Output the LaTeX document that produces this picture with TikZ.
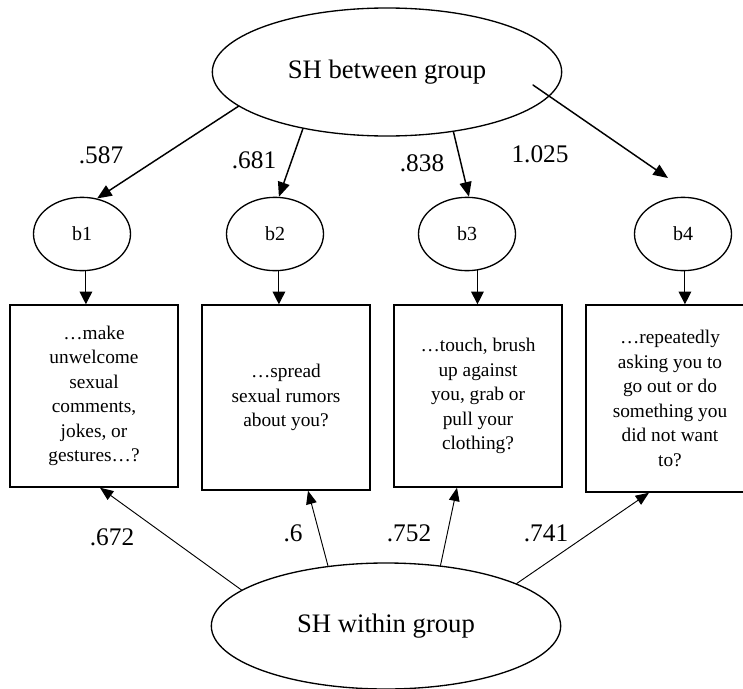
\documentclass[tikz,border=0pt]{standalone}
\usepackage{fontspec}
\setmainfont{Liberation Serif}
\usetikzlibrary{arrows.meta,shapes.geometric,calc}

\begin{document}
\begin{tikzpicture}[x=0.75pt,y=-0.75pt,line cap=round,
  latent/.style={ellipse,draw=black,line width=1pt,inner sep=0pt,minimum width=262pt,minimum height=94.5pt,font=\fontsize{20}{24}\selectfont},
  resid/.style={ellipse,draw=black,line width=1pt,inner sep=0pt,minimum width=72.75pt,minimum height=55pt,font=\fontsize{15}{18}\selectfont},
  item/.style={rectangle,draw=black,line width=1.1pt,inner sep=0pt,minimum width=126pt,align=center,font=\fontsize{14.5}{18.4}\selectfont},
  load/.style={inner sep=0pt,font=\fontsize{19}{23}\selectfont},
  toparr/.style={-{Triangle[length=11pt,width=9pt]},line width=1.1pt},
  botarr/.style={-{Triangle[length=10pt,width=8pt]},line width=0.7pt},
  resarr/.style={-{Triangle[length=9.5pt,width=9.5pt]},line width=0.8pt}]
\useasboundingbox (0,0) rectangle (743,689);
% latent factors
\node[latent,minimum height=96pt] (between) at (387,72) {SH between group};
\node[latent] (within) at (386,626) {SH within group};
% residual ellipses
\node[resid] (b1) at (82,234) {b1};
\node[resid] (b2) at (275,234) {b2};
\node[resid] (b3) at (467,234) {b3};
\node[resid] (b4) at (683,234) {b4};
% items
\node[item,minimum height=136.5pt] (box1) at (94,396) {…make\\unwelcome\\sexual\\comments,\\jokes, or\\gestures…?};
\node[item,minimum height=138.75pt] (box2) at (286,397.5) {…spread\\sexual rumors\\about you?};
\node[item,minimum height=136.5pt] (box3) at (478,396) {…touch, brush\\up against\\you, grab or\\pull your\\clothing?};
\node[item,minimum height=140.25pt] (box4) at (670,398.5) {…repeatedly\\asking you to\\go out or do\\something you\\did not want\\to?};
% between loadings
\coordinate (s4) at (533,85);
\coordinate (t4) at (668,178);
\draw[toparr] (between.193) -- (b1.67);
\draw[toparr] (between.214) -- (b2.84);
\draw[toparr] (between.318.5) -- (b3.87);
\draw[toparr] (s4) -- (t4);
\node[load] (l1) at (101,155) {.587};
\node[load] (l2) at (254,160) {.681};
\node[load] (l3) at (422,163) {.838};
\node[load] (l4) at (540,154) {1.025};
% residual paths
\draw[resarr] (b1.-84) -- (b1.-84 |- box1.north);
\draw[resarr] (b2.-84) -- (b2.-84 |- box2.north);
\draw[resarr] (b3.-74) -- (b3.-74 |- box3.north);
\draw[resarr] (b4.-87) -- (b4.-87 |- box4.north);
% within loadings
\draw[botarr] (within.166) -- ($(box1.south)+(6,0)$);
\draw[botarr] (within.134) -- ($(box2.south)+(22,0)$);
\draw[botarr] (within.48.5) -- ($(box3.south)+(-21,0)$);
\draw[botarr] (within.18) -- ($(box4.south)+(-21,0)$);
\node[load] (w1) at (112,537) {.672};
\node[load] (w2) at (293,533) {.6};
\node[load] (w3) at (409,533) {.752};
\node[load] (w4) at (546,533) {.741};
\end{tikzpicture}
\end{document}
